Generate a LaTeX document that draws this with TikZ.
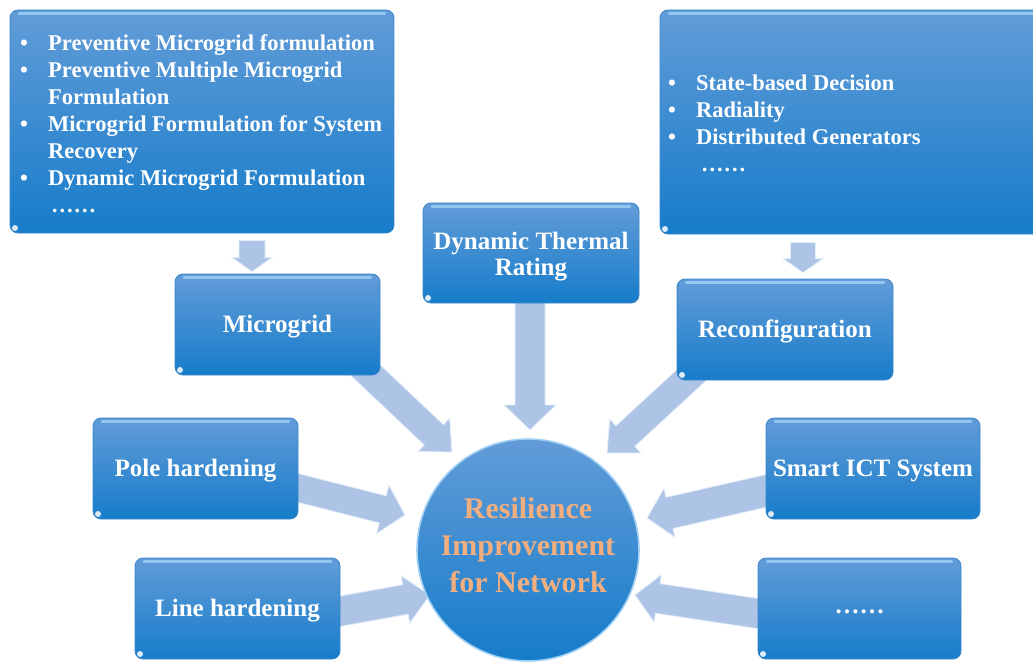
\documentclass[tikz,border=0pt]{standalone}
\usepackage{fontspec}
\setmainfont{Liberation Serif}
\usetikzlibrary{calc}

\definecolor{boxtop}{RGB}{98,156,216}
\definecolor{boxbot}{RGB}{22,124,202}
\definecolor{boxedge}{RGB}{58,134,200}
\definecolor{glint}{RGB}{170,218,250}
\definecolor{rimblue}{RGB}{160,208,244}
\definecolor{arrowfill}{RGB}{173,196,231}
\definecolor{arrowedge}{RGB}{228,238,250}
\definecolor{hubtext}{RGB}{242,174,126}

\pgfdeclarelayer{background}
\pgfsetlayers{background,main}

\tikzset{
  box/.style={rectangle, rounded corners=8pt, top color=boxtop, bottom color=boxbot,
    draw=boxedge, line width=0.8pt, text=white, align=center, inner sep=0pt,
    font=\bfseries\fontsize{25}{26}\selectfont,
    path picture={
      \draw[glint, opacity=0.7, line width=2.5pt, line cap=round]
        ([xshift=9pt,yshift=-3.5pt]path picture bounding box.north west) --
        ([xshift=-9pt,yshift=-3.5pt]path picture bounding box.north east);
      \fill[white, opacity=0.85]
        ([xshift=5pt,yshift=5pt]path picture bounding box.south west) circle (3pt);
    }},
  hub/.style={circle, minimum size=222pt, inner sep=0pt, top color=boxtop,
    bottom color=boxbot, draw=rimblue, line width=1.6pt, text=hubtext, align=center,
    font=\bfseries\fontsize{30}{37}\selectfont},
  listtext/.style={text=white, align=left, inner sep=0pt, anchor=north west,
    font=\bfseries\fontsize{22.5}{27}\selectfont},
  blockarr/.style={fill=arrowfill, draw=arrowedge, line width=0.8pt, line join=miter}
}

% bullet line and continuation line of the lists
\newcommand{\bitem}[1]{\makebox[28pt][l]{\textbullet}#1}
\newcommand{\bcont}[1]{\hspace*{28pt}#1}
% invisible rule that fixes the height of a label's first line
\newcommand{\lineheight}[1]{\rule{0pt}{#1}}

% block arrow: #1 start, #2 tip, #3 half shaft width, #4 half head width, #5 head length
\newcommand{\blockarrowpath}[5]{%
  \coordinate (neck) at ($(#2)!#5!(#1)$);
  \filldraw[blockarr]
    ($(#1)!#3!90:(#2)$) -- ($(neck)!#3!90:(#2)$) -- ($(neck)!#4!90:(#2)$) --
    (#2) --
    ($(neck)!#4!-90:(#2)$) -- ($(neck)!#3!-90:(#2)$) -- ($(#1)!#3!-90:(#2)$) -- cycle;
}

\begin{document}
\begin{tikzpicture}[x=1pt,y=-1pt]
\useasboundingbox (0,0) rectangle (1033,669);
\clip (0,0) rectangle (1033,669);

% boxes
\node[box, minimum width=384pt, minimum height=223pt] (tl) at (202,121.5) {};
\node[box, minimum width=385pt, minimum height=224pt] (tr) at (852.5,122) {};
\node[box, minimum width=216pt, minimum height=100pt] (dtr) at (531,253) {\lineheight{25pt}Dynamic Thermal\\Rating};
\node[box, minimum width=205pt, minimum height=101pt] (mg) at (277.5,324.5) {\lineheight{21pt}Microgrid};
\node[box, minimum width=216pt, minimum height=101pt] (rc) at (785,329.5) {\lineheight{21pt}Reconfiguration};
\node[box, minimum width=205pt, minimum height=101pt] (ph) at (195.5,468.5) {\lineheight{21pt}Pole hardening};
\node[box, minimum width=214pt, minimum height=101pt] (ict) at (873,468.5) {\lineheight{21pt}Smart ICT System};
\node[box, minimum width=205pt, minimum height=101pt] (lh) at (237.5,608.5) {\lineheight{21pt}Line hardening};
\node[box, minimum width=203pt, minimum height=101pt] (more) at (859.5,608.5) {\lineheight{11pt}……};

% central circle
\node[hub] (hub) at (528,550) {Resilience\\Improvement\\for Network\rule[-10pt]{0pt}{10pt}};

% lists inside the two upper boxes
\node[listtext] (tlitems) at (20,30) {\lineheight{20pt}\bitem{Preventive Microgrid formulation}\\
  \bitem{Preventive Multiple Microgrid}\\
  \bcont{Formulation}\\
  \bitem{Microgrid Formulation for System}\\
  \bcont{Recovery}\\
  \bitem{Dynamic Microgrid Formulation}\\
  \hspace*{31pt}……};
\node[listtext] (tritems) at (668,70.7) {\lineheight{20pt}\bitem{State-based Decision}\\
  \bitem{Radiality}\\
  \bitem{Distributed Generators}\\
  \hspace*{33pt}……};

% arrow end points
\coordinate (tl-out) at ($(tl.south)+(50,7)$);
\coordinate (mg-in)  at ($(mg.north)+(-25.5,-2)$);
\coordinate (tr-out) at ($(tr.south)+(-49.5,8)$);
\coordinate (rc-in)  at ($(rc.north)+(18,-6)$);
\coordinate (dtr-out) at ($(dtr.south)+(-1,-3)$);
\coordinate (mg-out) at ($(mg.south east)+(-20,-10)$);
\coordinate (rc-out) at ($(rc.south west)+(20,-10)$);
\coordinate (ph-out) at ($(ph.east)+(-8,17.5)$);
\coordinate (lh-out) at ($(lh.east)+(-10,4.5)$);
\coordinate (ict-out) at ($(ict.west)+(9,20.5)$);
\coordinate (more-out) at ($(more.west)+(10,6.5)$);
\coordinate (hub-dtr) at ($(hub)+(2,-120)$);
\coordinate (hub-mg)  at ($(hub)+(-76,-98)$);
\coordinate (hub-rc)  at ($(hub)+(79,-97)$);
\coordinate (hub-ph)  at ($(hub)+(-123,-35)$);
\coordinate (hub-lh)  at ($(hub)+(-98,45)$);
\coordinate (hub-ict) at ($(hub)+(119,-32)$);
\coordinate (hub-more) at ($(hub)+(107,45)$);

\begin{pgfonlayer}{background}
  \blockarrowpath{tl-out}{mg-in}{13pt}{20pt}{14pt}
  \blockarrowpath{tr-out}{rc-in}{12.5pt}{20pt}{14pt}
  \blockarrowpath{dtr-out}{hub-dtr}{15pt}{26pt}{25pt}
  \blockarrowpath{mg-out}{hub-mg}{14pt}{23pt}{25pt}
  \blockarrowpath{rc-out}{hub-rc}{14pt}{23pt}{25pt}
  \blockarrowpath{ph-out}{hub-ph}{14pt}{25pt}{23pt}
  \blockarrowpath{lh-out}{hub-lh}{15pt}{24pt}{25pt}
  \blockarrowpath{ict-out}{hub-ict}{16pt}{25pt}{23pt}
  \blockarrowpath{more-out}{hub-more}{15pt}{24pt}{23pt}
\end{pgfonlayer}
\end{tikzpicture}
\end{document}
